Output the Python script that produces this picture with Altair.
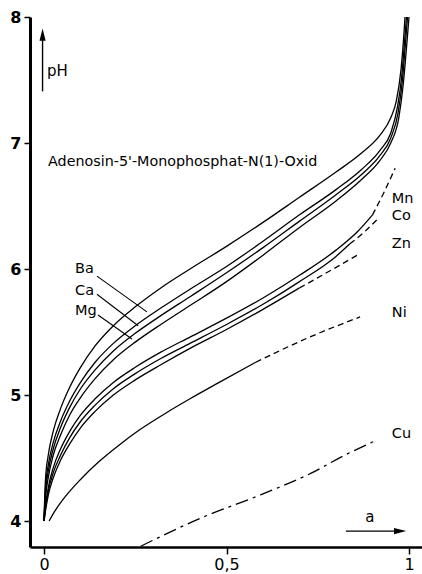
import altair as alt
import pandas as pd

# Titration curves, pH against degree of neutralisation a
grid_a = [0, 0.004, 0.012, 0.025, 0.045, 0.07, 0.1, 0.14, 0.19, 0.25, 0.32, 0.4, 0.5, 0.6, 0.7, 0.8, 0.87, 0.92, 0.95]

ph_ligand = [4.02, 4.33, 4.53, 4.71, 4.89, 5.06, 5.22, 5.39, 5.55, 5.70, 5.85, 6.00, 6.18, 6.37, 6.57, 6.77, 6.92, 7.06, 7.20]
tail_a_ligand = [0.965, 0.978, 0.986, 0.989]
tail_ph_ligand = [7.33, 7.58, 7.86, 8.0]

ph_ba = [4.0, 4.26, 4.45, 4.62, 4.79, 4.95, 5.10, 5.26, 5.41, 5.55, 5.69, 5.84, 6.02, 6.22, 6.43, 6.63, 6.79, 6.94, 7.08]
tail_a_ba = [0.968, 0.98, 0.988, 0.993]
tail_ph_ba = [7.28, 7.53, 7.81, 8.0]

ph_ca = [4.0, 4.22, 4.40, 4.57, 4.74, 4.90, 5.05, 5.20, 5.35, 5.49, 5.63, 5.78, 5.97, 6.17, 6.38, 6.59, 6.75, 6.90, 7.04]
tail_a_ca = [0.97, 0.982, 0.99, 0.996]
tail_ph_ca = [7.24, 7.50, 7.78, 8.0]

ph_mg = [4.0, 4.18, 4.35, 4.52, 4.68, 4.84, 4.98, 5.13, 5.28, 5.42, 5.56, 5.71, 5.90, 6.11, 6.33, 6.54, 6.71, 6.86, 7.0]
tail_a_mg = [0.972, 0.984, 0.993, 1.0]
tail_ph_mg = [7.20, 7.46, 7.75, 8.0]

a_mn = grid_a[:16] + [0.86, 0.9]
ph_mn = [4.0, 4.12, 4.27, 4.42, 4.57, 4.71, 4.84, 4.97, 5.10, 5.22, 5.34, 5.46, 5.61, 5.77, 5.95, 6.15, 6.30, 6.43]
a_mn_dash = [0.9, 0.93, 0.962]
ph_mn_dash = [6.43, 6.60, 6.80]

a_co = grid_a[:16] + [0.838]
ph_co = [4.0, 4.10, 4.24, 4.38, 4.52, 4.66, 4.79, 4.92, 5.05, 5.17, 5.29, 5.41, 5.56, 5.72, 5.90, 6.10, 6.20]
a_co_dash = [0.838, 0.88, 0.915]
ph_co_dash = [6.20, 6.30, 6.40]

a_zn = grid_a[:15]
ph_zn = [4.0, 4.08, 4.21, 4.34, 4.48, 4.61, 4.74, 4.87, 5.00, 5.12, 5.24, 5.37, 5.52, 5.68, 5.85]
a_zn_dash = [0.7, 0.78, 0.858]
ph_zn_dash = [5.85, 5.98, 6.11]

a_ni = [0.014, 0.03, 0.06, 0.1, 0.15, 0.2, 0.26, 0.33, 0.4, 0.48, 0.58]
ph_ni = [4.0, 4.08, 4.20, 4.33, 4.47, 4.59, 4.72, 4.85, 4.97, 5.10, 5.26]
a_ni_dash = [0.58, 0.72, 0.866]
ph_ni_dash = [5.26, 5.45, 5.62]

a_cu = [0.265, 0.427, 0.595, 0.732, 0.822, 0.91]
ph_cu = [3.80, 4.02, 4.21, 4.38, 4.52, 4.64]

metal_names = ["Ba", "Ca", "Mg", "Mn", "Co", "Zn", "Ni", "Cu"]
label_a = [0.085, 0.085, 0.085, 0.953, 0.953, 0.953, 0.953, 0.953]
label_ph = [6.00, 5.825, 5.67, 6.556, 6.42, 6.20, 5.65, 4.69]

# leader lines from the Ba/Ca/Mg labels to their curves
leader_a = [0.145, 0.145, 0.148]
leader_ph = [5.944, 5.80, 5.635]
leader_a2 = [0.282, 0.258, 0.241]
leader_ph2 = [5.66, 5.55, 5.445]

x_tick_values = [0, 0.5, 1]
x_tick_labels = ["0", "0,5", "1"]
y_tick_values = [4, 5, 6, 7, 8]

title_text = "Adenosin-5'-Monophosphat-N(1)-Oxid"

FONT = "DejaVu Sans"
XDOM = [-0.0384, 1.0356]
YDOM = [3.794, 8.0]


def segs(pairs):
    rows = []
    for sid, (xs_, ys_) in enumerate(pairs):
        for i, (a, b) in enumerate(zip(xs_, ys_)):
            rows.append({"seg": sid, "i": i, "a": a, "pH": b})
    return pd.DataFrame(rows)


solid = segs([
    (grid_a + tail_a_ligand, ph_ligand + tail_ph_ligand),
    (grid_a + tail_a_ba, ph_ba + tail_ph_ba),
    (grid_a + tail_a_ca, ph_ca + tail_ph_ca),
    (grid_a + tail_a_mg, ph_mg + tail_ph_mg),
    (a_mn, ph_mn), (a_co, ph_co), (a_zn, ph_zn), (a_ni, ph_ni),
])
dashed = segs([(a_mn_dash, ph_mn_dash), (a_co_dash, ph_co_dash),
               (a_zn_dash, ph_zn_dash), (a_ni_dash, ph_ni_dash)])
dashdot = segs([(a_cu, ph_cu)])

xs = alt.Scale(domain=XDOM, nice=False, zero=False)
ys = alt.Scale(domain=YDOM, nice=False, zero=False)

label_expr = " : ".join(
    f"datum.value == {v} ? '{t}'" for v, t in zip(x_tick_values[:-1], x_tick_labels[:-1])
) + f" : '{x_tick_labels[-1]}'"

x_axis = alt.Axis(values=x_tick_values, labelExpr=label_expr,
                  title=None, grid=False, domainWidth=2.5, tickSize=7, tickWidth=1.5,
                  labelFontSize=16, labelFont=FONT, labelPadding=2, domainColor="black",
                  tickColor="black", labelColor="black")
y_axis = alt.Axis(values=y_tick_values, format="d", title=None, grid=False, domainWidth=3,
                  tickSize=6, tickWidth=1.5, labelFontSize=16, labelFont=FONT,
                  labelFontWeight="bold", labelPadding=3, domainColor="black",
                  tickColor="black", labelColor="black")

X = alt.X("a:Q", scale=xs, axis=x_axis)
Y = alt.Y("pH:Q", scale=ys, axis=y_axis)


def line_layer(df, dash=None):
    kw = {}
    if dash:
        kw["strokeDash"] = dash
    m = alt.Chart(df).mark_line(color="black", strokeWidth=1.3, interpolate="monotone", clip=True, **kw)
    return m.encode(x=X, y=Y, detail="seg:N", order="i:Q")


curves = line_layer(solid)
dash_lines = line_layer(dashed, dash=[6, 4])
cu_line = line_layer(dashdot, dash=[13, 5, 3, 5])

labels_df = pd.DataFrame({"name": metal_names, "a": label_a, "pH": label_ph})
labels = alt.Chart(labels_df).mark_text(align="left", baseline="middle", fontSize=14.5,
                                        font=FONT, color="black").encode(x=X, y=Y, text="name:N")

leaders_df = pd.DataFrame({"a": leader_a, "pH": leader_ph, "a2": leader_a2, "pH2": leader_ph2})
leaders = alt.Chart(leaders_df).mark_rule(color="black", strokeWidth=1.1).encode(
    x=X, y=Y, x2="a2:Q", y2="pH2:Q")

title_df = pd.DataFrame({"a": [0.011], "pH": [6.85], "t": [title_text]})
title = alt.Chart(title_df).mark_text(align="left", baseline="middle", fontSize=14.3,
                                      font=FONT, color="black").encode(x=X, y=Y, text="t:N")

# axis arrows: pH upward, a to the right
arrow_df = pd.DataFrame({"a": [-0.004, 0.827], "pH": [7.41, 3.92], "a2": [-0.004, 0.965], "pH2": [7.82, 3.92]})
arrows = alt.Chart(arrow_df).mark_rule(color="black", strokeWidth=1.4).encode(
    x=X, y=Y, x2="a2:Q", y2="pH2:Q")
head_df = pd.DataFrame({"a": [-0.004, 0.974], "pH": [7.855, 3.92], "ang": [0, 90]})
heads = alt.Chart(head_df).mark_point(shape="M0,-1.1L0.5,0.9L-0.5,0.9Z", filled=True, color="black",
                                      size=150, opacity=1, strokeWidth=0).encode(
    x=X, y=Y, angle=alt.Angle("ang:Q", scale=None))

sym_df = pd.DataFrame({"a": [0.008, 0.88], "pH": [7.57, 4.03], "t": ["pH", "a"]})
syms = alt.Chart(sym_df).mark_text(align="left", baseline="middle", fontSize=15,
                                   font=FONT, color="black").encode(x=X, y=Y, text="t:N")

chart = alt.layer(curves, dash_lines, cu_line, leaders, labels, title, arrows, heads, syms).properties(
    width=392, height=530,
    autosize=alt.AutoSizeParams(type="none"),
    padding={"left": 30, "top": 17, "right": 0, "bottom": 27},
    background="white",
).configure_view(stroke=None)

chart.save("out.html", embed_options={"renderer": "svg", "actions": False})
